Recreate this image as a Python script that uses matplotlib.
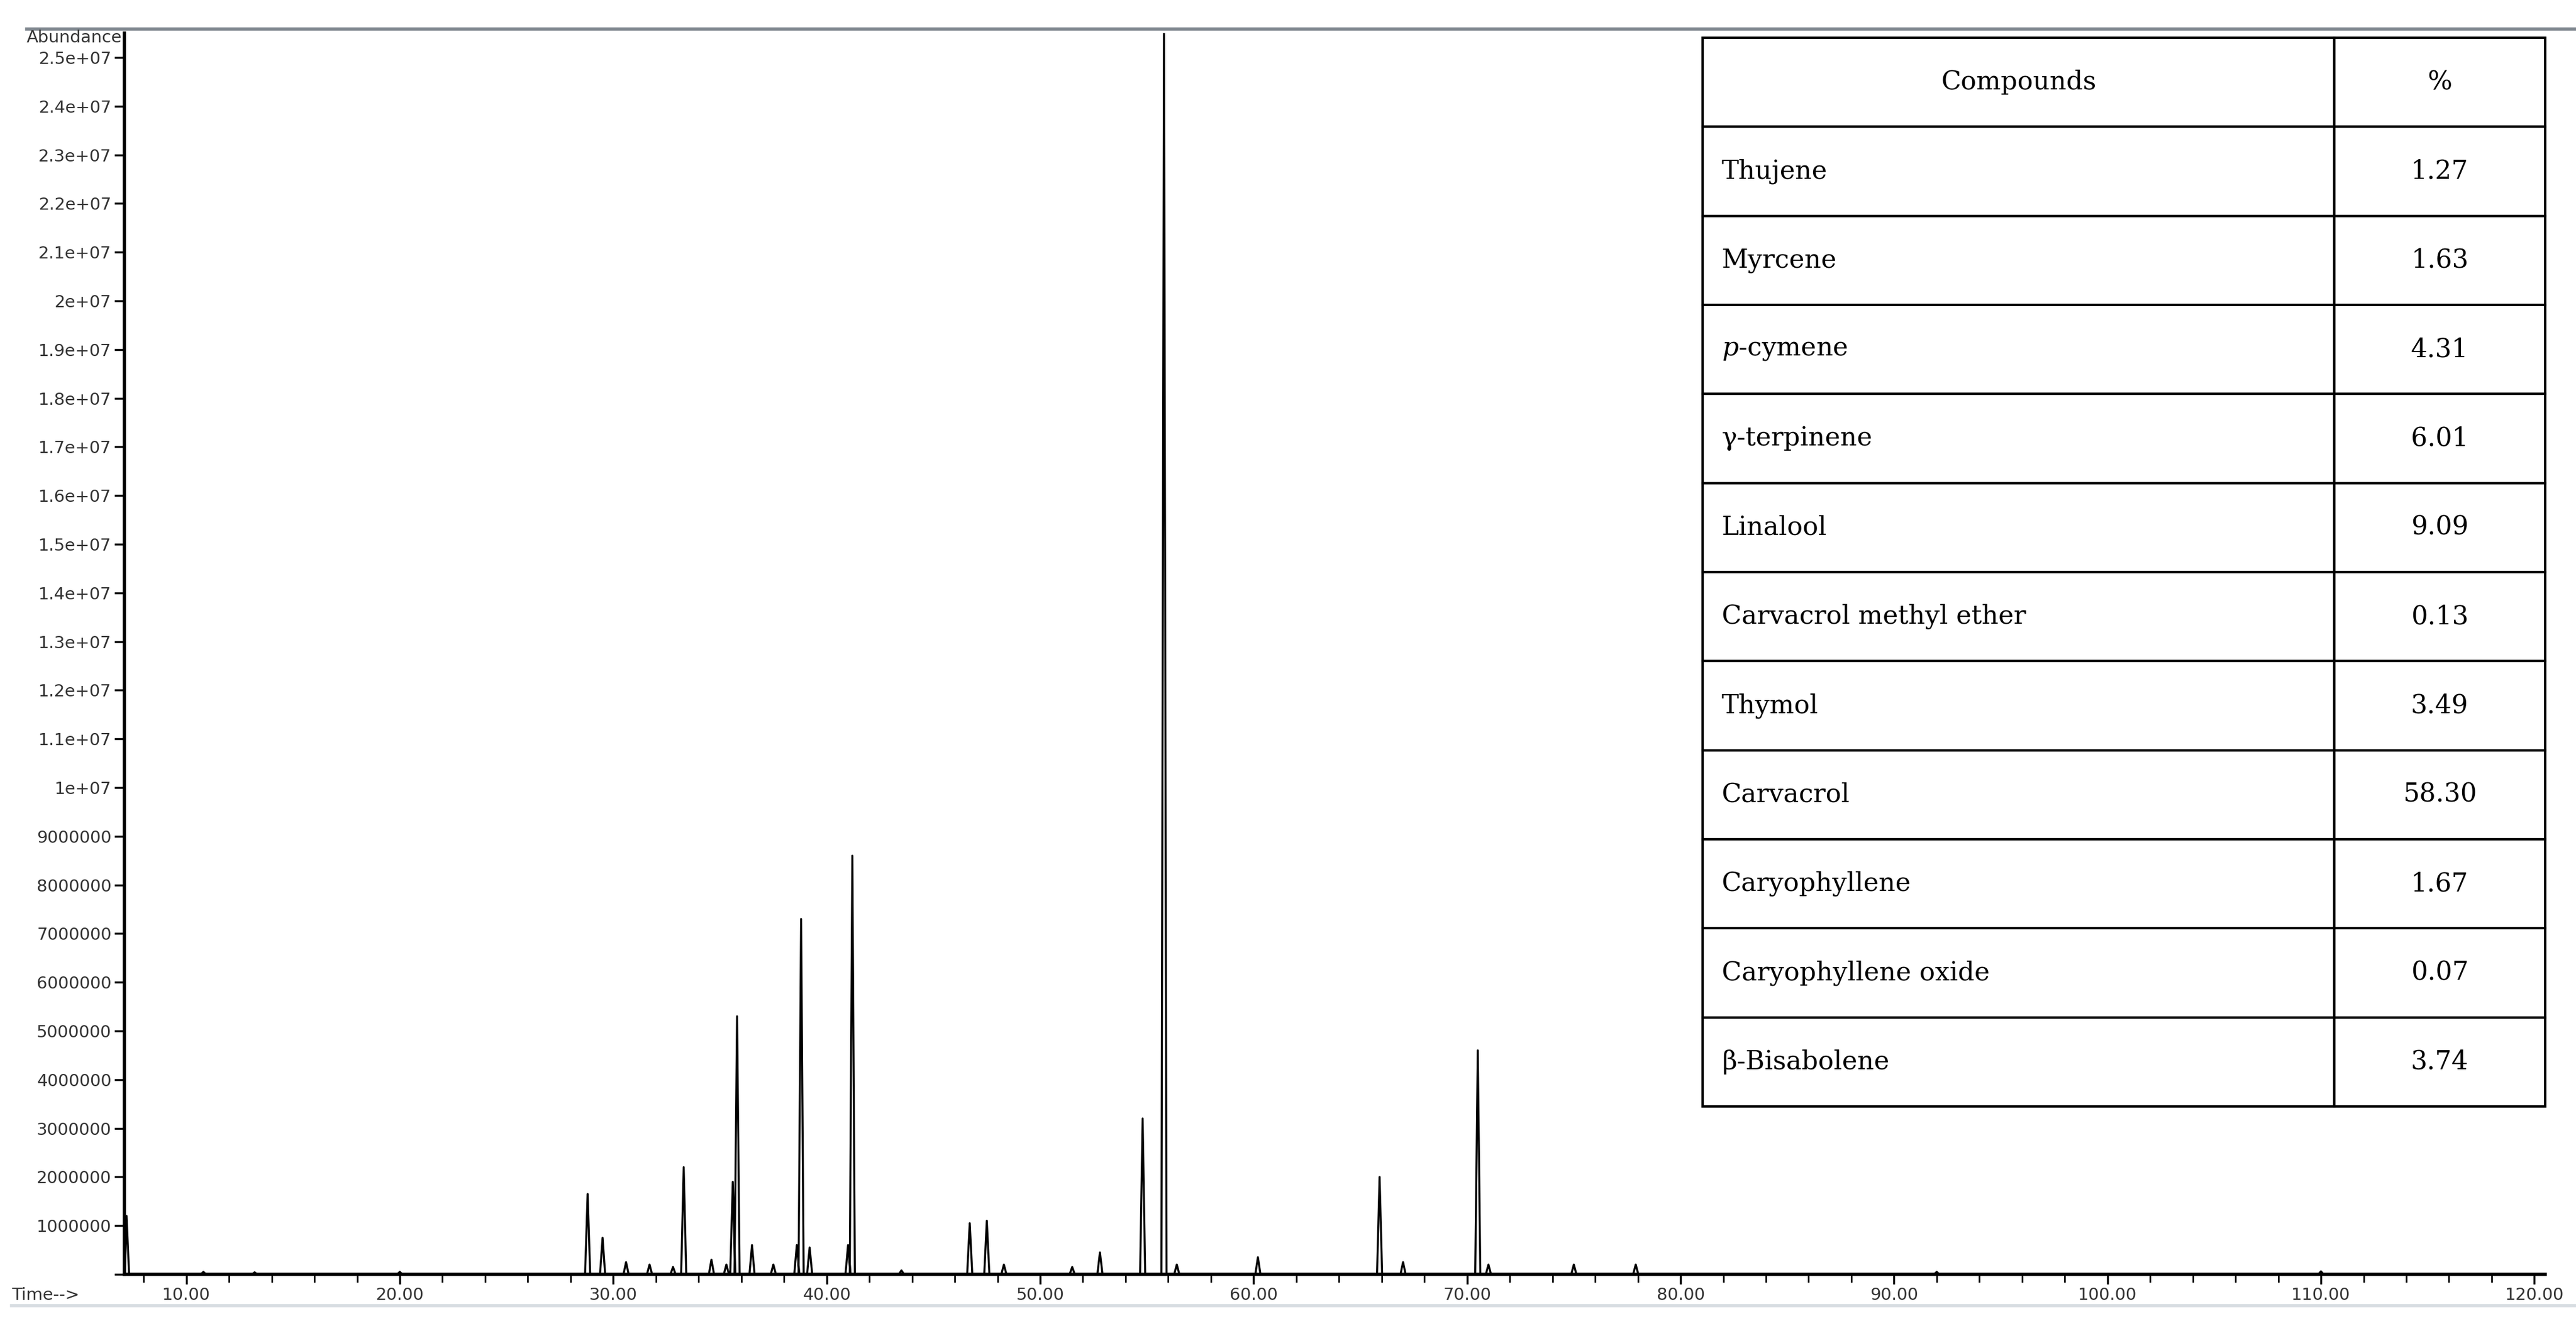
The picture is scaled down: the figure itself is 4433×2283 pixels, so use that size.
import numpy as np
import matplotlib
matplotlib.use("Agg")
import matplotlib.pyplot as plt
from matplotlib.ticker import FuncFormatter, MultipleLocator

plt.rcParams["mathtext.fontset"] = "dejavuserif"

# Peaks (retention time in min, abundance)
peak_times = [7.2, 10.8, 13.2, 20.0, 28.8, 29.5, 30.6, 31.7, 32.8, 33.3, 34.6, 35.3,
              35.6, 35.8, 36.5, 37.5, 38.6, 38.8, 39.2, 41.0, 41.2, 43.5, 46.7, 47.5, 48.3,
              51.5, 52.8, 54.8, 55.8, 56.4, 60.2, 65.9, 67.0, 70.5, 71.0,
              75.0, 77.9, 92.0, 110.0]
peak_heights = [1.2e6, 0.05e6, 0.04e6, 0.05e6, 1.65e6, 0.75e6, 0.25e6, 0.2e6, 0.15e6, 2.2e6, 0.3e6, 0.2e6,
                1.9e6, 5.3e6, 0.6e6, 0.2e6, 0.6e6, 7.3e6, 0.55e6, 0.6e6, 8.6e6, 0.08e6, 1.05e6, 1.1e6, 0.2e6,
                0.15e6, 0.45e6, 3.2e6, 25.6e6, 0.2e6, 0.35e6, 2.0e6, 0.25e6, 4.6e6, 0.2e6,
                0.2e6, 0.2e6, 0.05e6, 0.06e6]

compounds = ["Thujene", "Myrcene", "$p$-cymene", "\u03b3-terpinene", "Linalool",
             "Carvacrol methyl ether", "Thymol", "Carvacrol", "Caryophyllene",
             "Caryophyllene oxide", "\u03b2-Bisabolene"]
percents = ["1.27", "1.63", "4.31", "6.01", "9.09", "0.13", "3.49", "58.30",
            "1.67", "0.07", "3.74"]

# build a trace: narrow triangular peaks on a flat baseline
xs, ys = [7.1], [0.0]
for t, h in zip(peak_times, peak_heights):
    w = 0.12
    xs += [t - w, t, t + w]
    ys += [0.0, h, 0.0]
xs.append(120.5)
ys.append(0.0)
xs[1] = 7.12  # solvent tail starts at the axis edge

fig = plt.figure(figsize=(44.33, 22.83), dpi=100)
ax = fig.add_axes([0.0483, 0.039, 0.9397, 0.936])
ax.plot(xs, ys, color="black", linewidth=2.5)
ax.set_xlim(7.1, 120.5)
ax.set_ylim(0, 25.5e6)

for s in ["top", "right"]:
    ax.spines[s].set_visible(False)
for s in ["left", "bottom"]:
    ax.spines[s].set_linewidth(4)

ax.xaxis.set_major_locator(MultipleLocator(10))
ax.xaxis.set_minor_locator(MultipleLocator(2))
ax.yaxis.set_major_locator(MultipleLocator(1e6))
ax.xaxis.set_major_formatter(FuncFormatter(lambda v, p: f"{v:.2f}"))


def yfmt(v, p):
    if v <= 0:
        return ""
    if v >= 1e7:
        m, e = f"{v:.1e}".split("e")
        m = m.rstrip("0").rstrip(".")
        return f"{m}e{e}"
    return f"{v:.0f}"


ax.yaxis.set_major_formatter(FuncFormatter(yfmt))
tick_font = ["Liberation Sans Narrow", "DejaVu Sans"]
ax.tick_params(axis="both", which="major", length=12, width=2.5, labelsize=21, pad=4)
ax.tick_params(axis="x", which="minor", length=10, width=2)
for lab in ax.get_xticklabels() + ax.get_yticklabels():
    lab.set_family(tick_font)
    lab.set_color("#333333")

fig.text(0.0104, 0.9715, "Abundance", fontsize=21, family=tick_font, va="center", color="#333333")
fig.text(0.0045, 0.0232, "Time-->", fontsize=21, family=tick_font, va="center", color="#333333")
fig.add_artist(plt.Line2D([0.0104, 1.0], [0.978, 0.978], color="#808890", linewidth=4))
fig.add_artist(plt.Line2D([0.0045, 1.0], [0.0155, 0.0155], color="#d8dde2", linewidth=4))

# composition table
tax = fig.add_axes([0.661, 0.1656, 0.327, 0.806])
tax.axis("off")
cells = [[c, p] for c, p in zip(compounds, percents)]
tbl = tax.table(cellText=cells, colLabels=["Compounds", "%"], bbox=[0, 0, 1, 1],
                colWidths=[0.75, 0.25], cellLoc="center")
tbl.auto_set_font_size(False)
for (r, c), cell in tbl.get_celld().items():
    cell.set_linewidth(3)
    cell.set_edgecolor("black")
    txt = cell.get_text()
    txt.set_fontsize(32)
    txt.set_family("DejaVu Serif")
    if r > 0 and c == 0:
        txt.set_ha("left")
        cell.PAD = 0.03

fig.savefig("out.png", dpi=100)
